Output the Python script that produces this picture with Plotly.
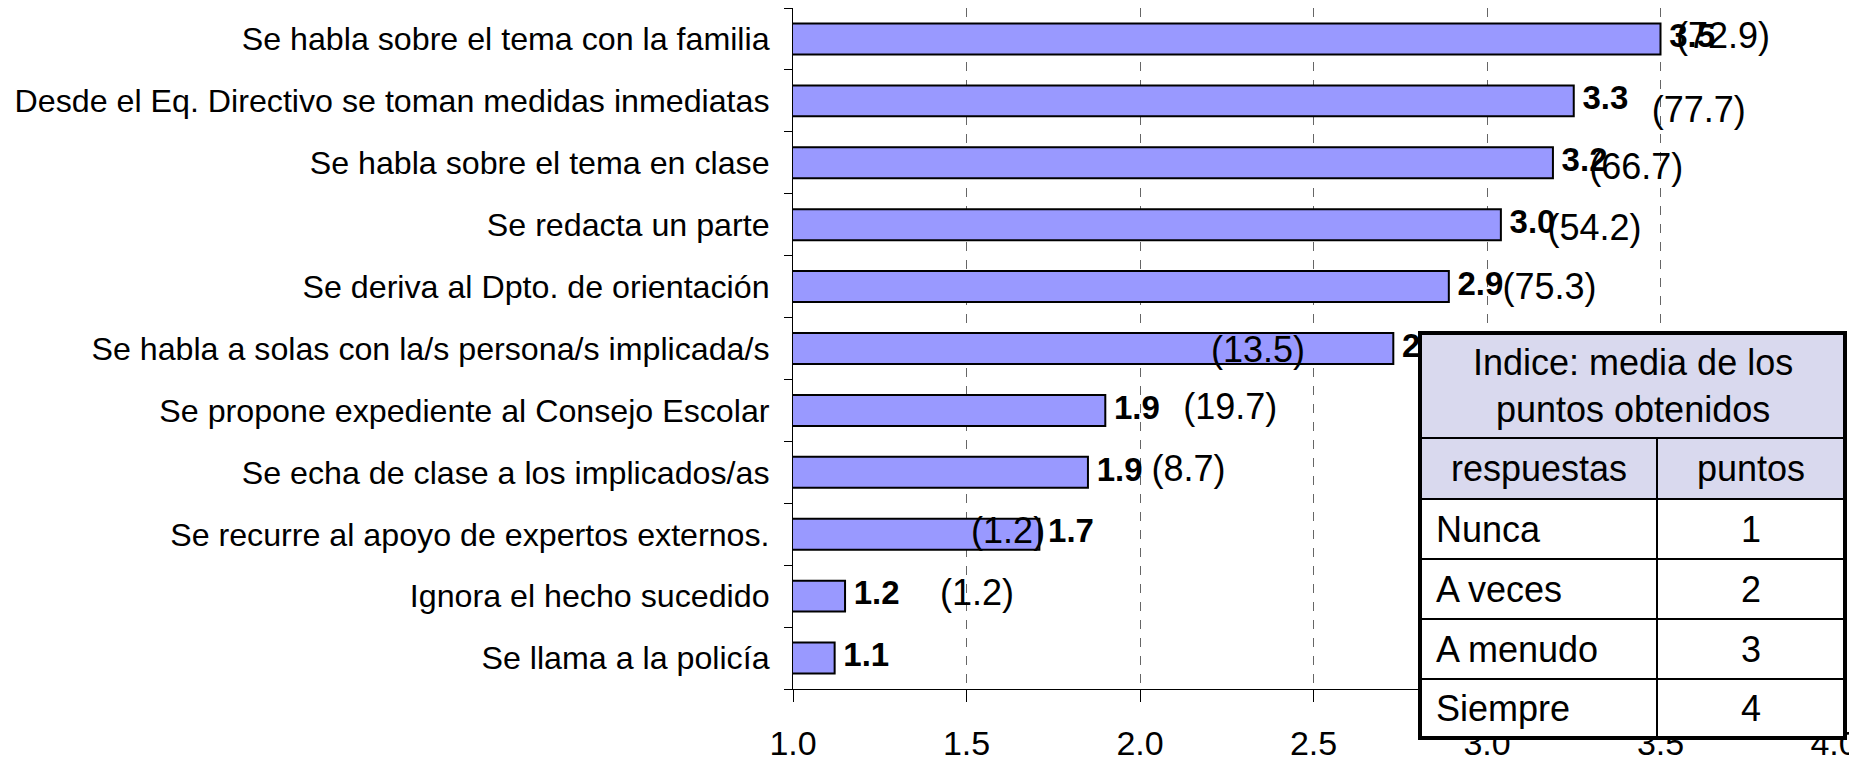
import plotly.graph_objects as go

# ---------------- data (top to bottom as in the picture) ----------------
categories = [
    "Se habla sobre el tema con la familia",
    "Desde el Eq. Directivo se toman medidas inmediatas",
    "Se habla sobre el tema en clase",
    "Se redacta un parte",
    "Se deriva al Dpto. de orientación",
    "Se habla a solas con la/s persona/s implicada/s",
    "Se propone expediente al Consejo Escolar",
    "Se echa de clase a los implicados/as",
    "Se recurre al apoyo de expertos externos.",
    "Ignora el hecho sucedido",
    "Se llama a la policía",
]
index_values = [3.50, 3.25, 3.19, 3.04, 2.89, 2.73, 1.90, 1.85, 1.71, 1.15, 1.12]
value_labels = ["3.5", "3.3", "3.2", "3.0", "2.9", "2.7", "1.9", "1.9", "1.7", "1.2", "1.1"]
percent_values = [72.9, 77.7, 66.7, 54.2, 75.3, 13.5, 19.7, 8.7, 1.2, 1.2, None]

x_tick_vals = [1.0, 1.5, 2.0, 2.5, 3.0, 3.5, 4.0]
x_tick_text = ["1.0", "1.5", "2.0", "2.5", "3.0", "3.5", "4.0"]

table_title = "Indice: media de los<br>puntos obtenidos"
table_header = ["respuestas", "puntos"]
table_answers = ["Nunca", "A veces", "A menudo", "Siempre"]
table_points = ["1", "2", "3", "4"]

# ---------------- label placement (layout, not data) ----------------
paren_x = [3.68, 3.61, 3.43, 3.31, 3.18, 2.34, 2.26, 2.14, 1.62, 1.53, None]
paren_dy = [0.0, 0.19, 0.11, 0.10, 0.05, 0.08, 0.0, 0.0, 0.0, 0.0, 0.0]

FONT = "Liberation Sans, Arial, sans-serif"
n = len(categories)
ypos = [n - 1 - i for i in range(n)]

OFF = 8                       # default page body margin
W, H = 1857 - OFF, 760 - OFF
X0, X1 = 793 - OFF, 1834 - OFF   # figure px of 1.0 and 4.0
YT, YB = 0, 689 - OFF            # figure px top / bottom of plot area


def px(xpage):
    return (xpage - OFF - X0) / (X1 - X0)


def py(ypage):
    return (YB - (ypage - OFF)) / (YB - YT)


fig = go.Figure()

fig.add_trace(go.Bar(
    y=categories, x=index_values, orientation="h", width=0.5,
    marker=dict(color="#9999FF", line=dict(color="black", width=2)),
    hoverinfo="skip", showlegend=False,
))

# bold value labels
fig.add_trace(go.Scatter(
    x=[v + 0.025 for v in index_values], y=ypos, yaxis="y2",
    mode="text", text=[f"<b>{t}</b>" for t in value_labels],
    textposition="middle right",
    textfont=dict(family=FONT, size=33, color="black"),
    hoverinfo="skip", showlegend=False, cliponaxis=False,
))

# percentage labels in parentheses
px_list, py_list, pt_list = [], [], []
for i, p in enumerate(percent_values):
    if p is None:
        continue
    px_list.append(paren_x[i])
    py_list.append(ypos[i] - paren_dy[i])
    pt_list.append(f"({p:.1f})")
fig.add_trace(go.Scatter(
    x=px_list, y=py_list, yaxis="y2",
    mode="text", text=pt_list, textposition="middle center",
    textfont=dict(family=FONT, size=36, color="black"),
    hoverinfo="skip", showlegend=False, cliponaxis=False,
))

# ---------------- table (shapes + annotations), page pixel geometry ----------------
TL, TR, TT, TBm = 1420, 1845, 333, 738
title_bottom, header_bottom = 438, 499
row_bounds = [499, 559, 619, 679, 738]
col_div = 1657
shapes = []
shapes.append(dict(type="rect", xref="paper", yref="paper", layer="above",
                   x0=px(TL), x1=px(TR), y0=py(TT), y1=py(TBm),
                   fillcolor="white", line=dict(width=0)))
shapes.append(dict(type="rect", xref="paper", yref="paper", layer="above",
                   x0=px(TL), x1=px(TR), y0=py(TT), y1=py(header_bottom),
                   fillcolor="#D9D9EE", line=dict(width=0)))
for yb in [title_bottom] + row_bounds[:-1]:
    shapes.append(dict(type="line", xref="paper", yref="paper", layer="above",
                       x0=px(TL), x1=px(TR), y0=py(yb), y1=py(yb),
                       line=dict(color="black", width=2)))
shapes.append(dict(type="line", xref="paper", yref="paper", layer="above",
                   x0=px(col_div), x1=px(col_div), y0=py(title_bottom), y1=py(TBm),
                   line=dict(color="black", width=2)))
shapes.append(dict(type="rect", xref="paper", yref="paper", layer="above",
                   x0=px(TL), x1=px(TR), y0=py(TT), y1=py(TBm),
                   fillcolor="rgba(0,0,0,0)", line=dict(color="black", width=4)))

annotations = []
tfont = dict(family=FONT, size=36, color="black")
annotations.append(dict(xref="paper", yref="paper", x=px((TL + TR) / 2), y=py((TT + title_bottom) / 2),
                        text=table_title, showarrow=False, font=tfont,
                        xanchor="center", yanchor="middle", align="center"))
annotations.append(dict(xref="paper", yref="paper", x=px((TL + col_div) / 2), y=py((title_bottom + header_bottom) / 2),
                        text=table_header[0], showarrow=False, font=tfont,
                        xanchor="center", yanchor="middle"))
annotations.append(dict(xref="paper", yref="paper", x=px((col_div + TR) / 2), y=py((title_bottom + header_bottom) / 2),
                        text=table_header[1], showarrow=False, font=tfont,
                        xanchor="center", yanchor="middle"))
for k, (a, p) in enumerate(zip(table_answers, table_points)):
    yc = py((row_bounds[k] + row_bounds[k + 1]) / 2)
    annotations.append(dict(xref="paper", yref="paper", x=px(TL + 14), y=yc,
                            text=a, showarrow=False, font=tfont,
                            xanchor="left", yanchor="middle"))
    annotations.append(dict(xref="paper", yref="paper", x=px((col_div + TR) / 2), y=yc,
                            text=p, showarrow=False, font=tfont,
                            xanchor="center", yanchor="middle"))

fig.update_layout(
    width=W, height=H, autosize=False,
    margin=dict(l=X0, r=W - X1, t=YT, b=H - YB, pad=0, autoexpand=False),
    paper_bgcolor="white", plot_bgcolor="white",
    font=dict(family=FONT, color="black"),
    xaxis=dict(
        range=[1, 4], tickvals=x_tick_vals, ticktext=x_tick_text,
        showgrid=True, gridcolor="#666666", griddash="dash", gridwidth=1,
        showline=True, linecolor="black", linewidth=1,
        ticks="outside", ticklen=12, tickcolor="black", tickwidth=1,
        tickfont=dict(family=FONT, size=34, color="black"),
        ticklabelstandoff=12, ticklabeloverflow="allow",
        automargin=False, zeroline=False, fixedrange=True,
    ),
    yaxis=dict(
        type="category", categoryorder="array", categoryarray=categories[::-1],
        range=[-0.5, n - 0.5],
        showline=True, linecolor="black", linewidth=1,
        ticks="outside", ticklen=8, tickcolor="black", tickson="boundaries",
        tickfont=dict(family=FONT, size=32.2, color="black"),
        ticklabelstandoff=16, automargin=False,
        showgrid=False, zeroline=False, fixedrange=True,
    ),
    yaxis2=dict(overlaying="y", range=[-0.5, n - 0.5], visible=False, fixedrange=True),
    shapes=shapes, annotations=annotations,
)

fig.write_html("out.html")
